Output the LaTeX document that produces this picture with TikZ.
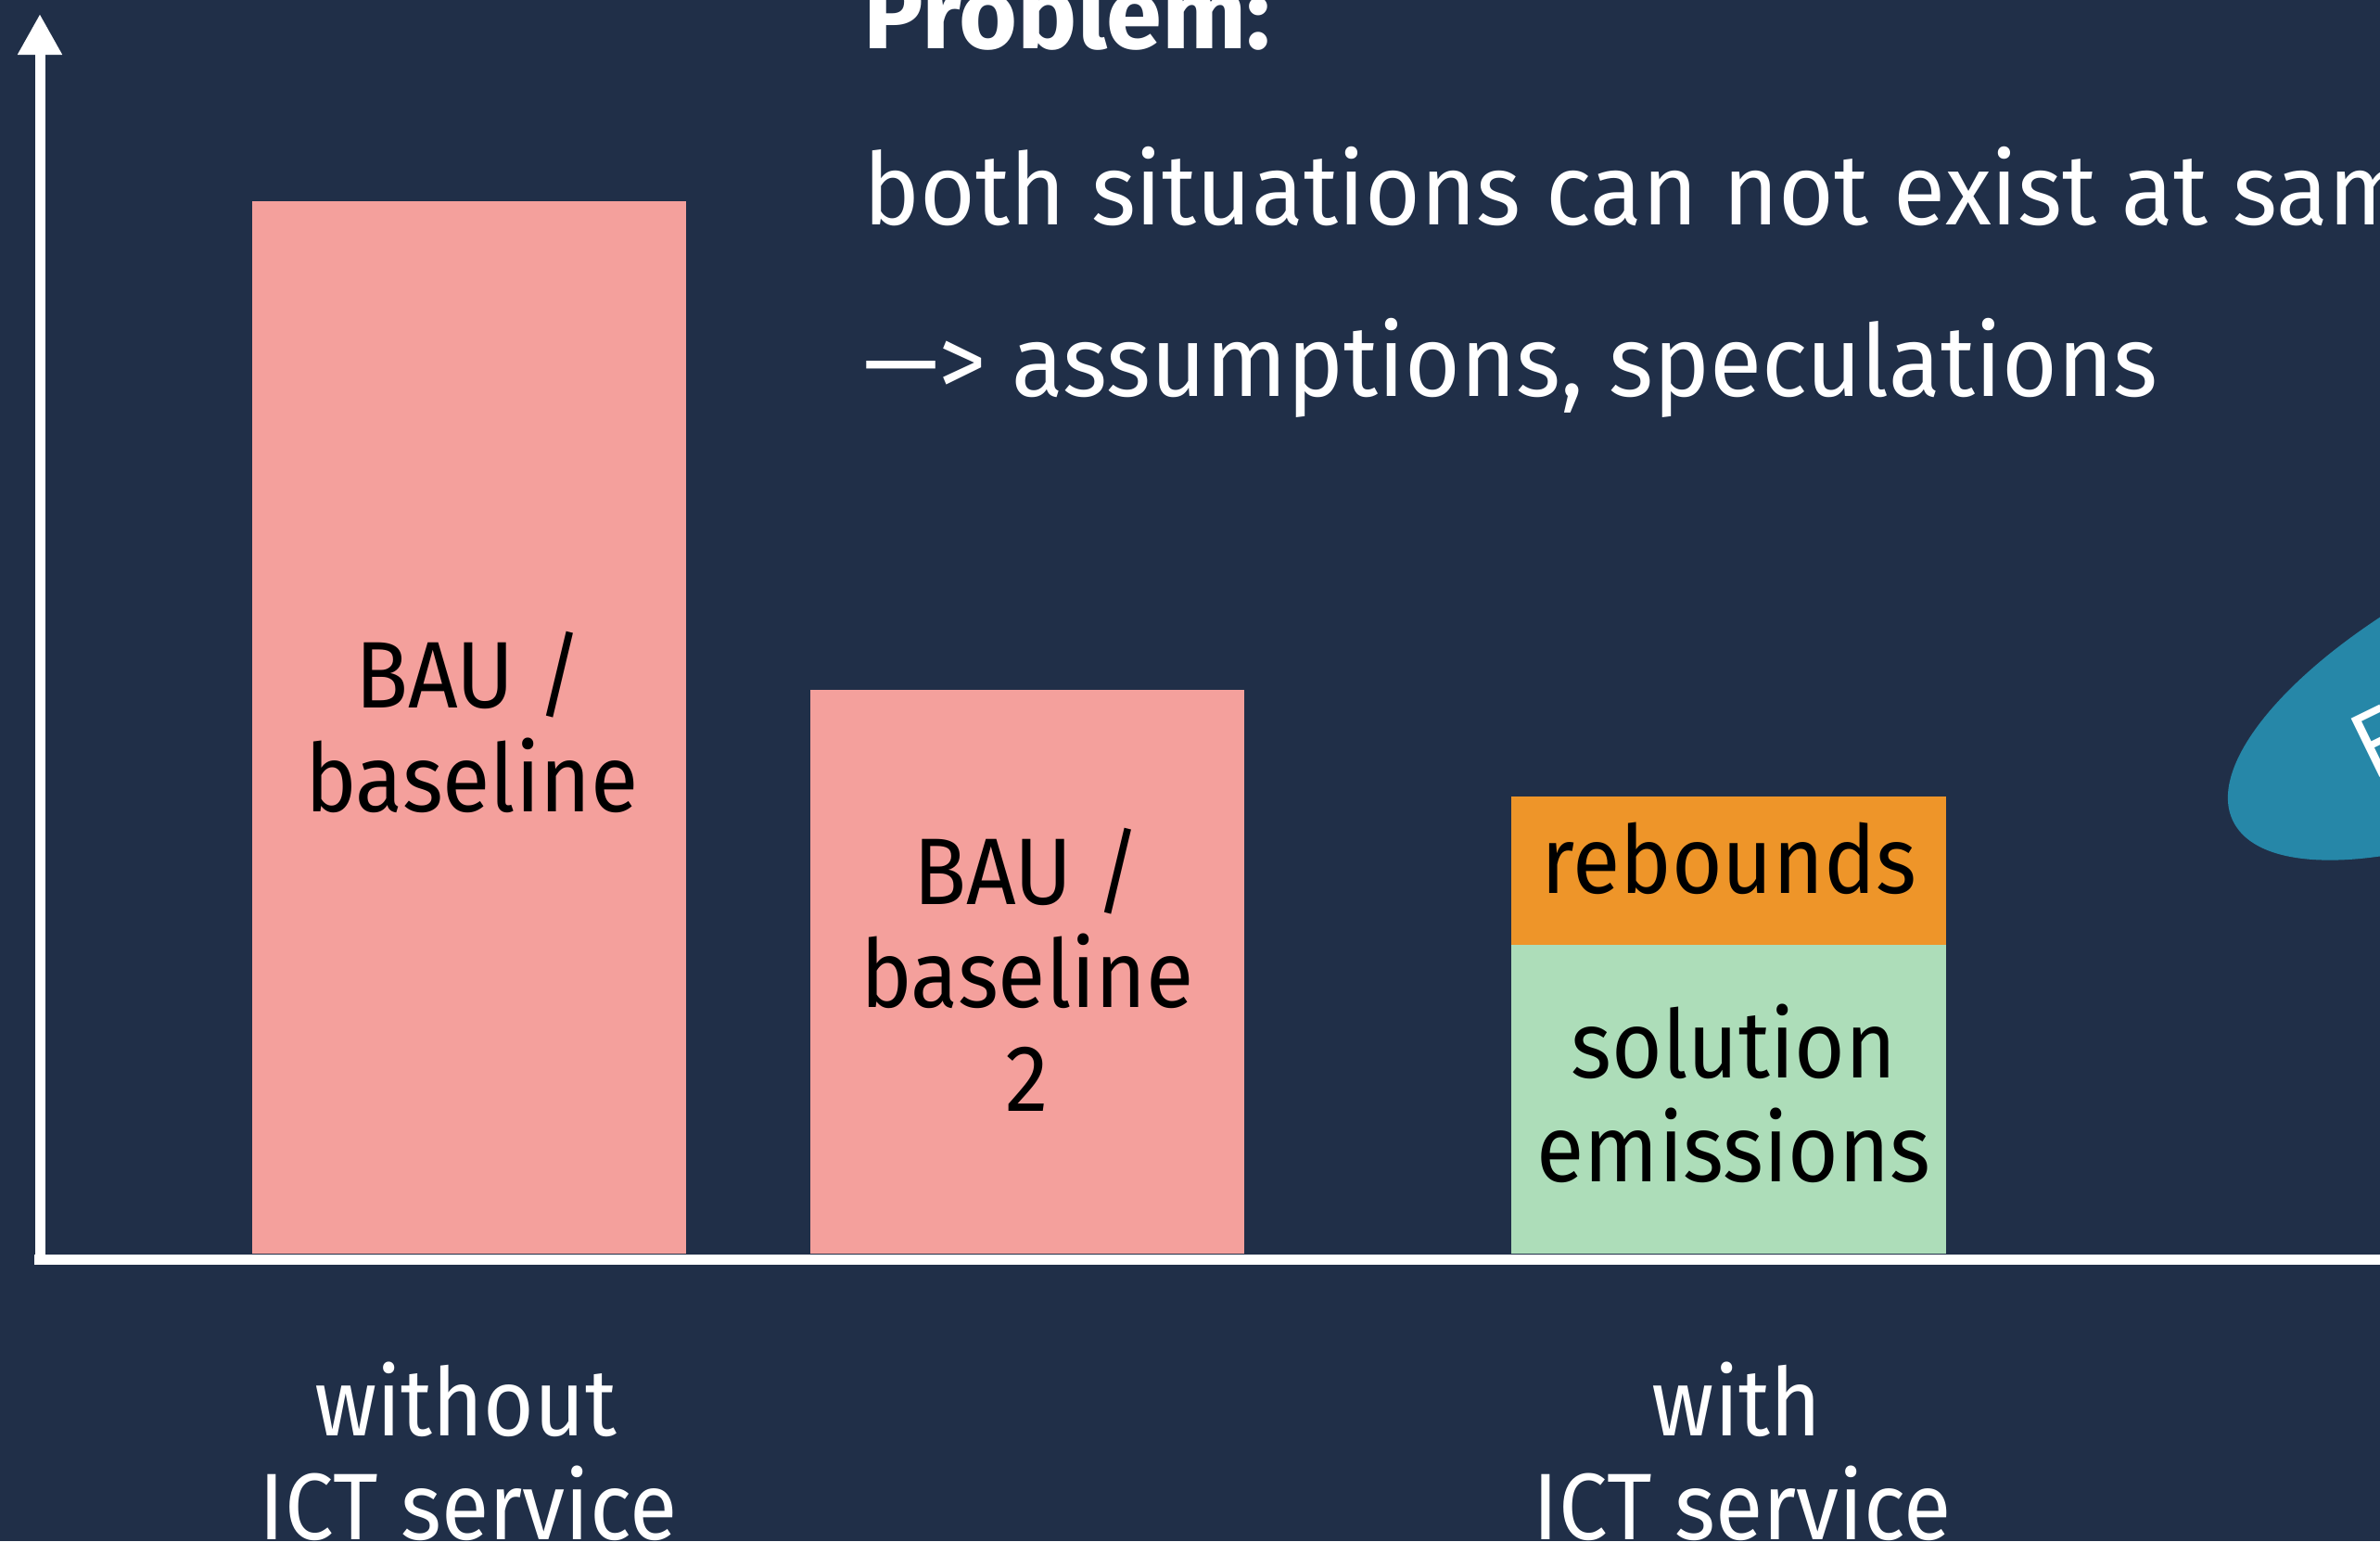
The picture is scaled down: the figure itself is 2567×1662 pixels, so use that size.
\documentclass[tikz,border=0pt]{standalone}
\usepackage{fontspec}
\setmainfont{Fira Sans}
\newfontfamily\lblfamily[FakeStretch=0.92]{Fira Sans}
\newfontfamily\topfamily[FakeStretch=0.95]{Fira Sans}
\usetikzlibrary{arrows.meta,shapes.geometric}
\definecolor{bgnavy}{HTML}{202F48}
\definecolor{barpink}{HTML}{F4A09C}
\definecolor{barorange}{HTML}{EE9529}
\definecolor{bargreen}{HTML}{ADDDB9}
\definecolor{blobblue}{HTML}{2687A8}
\newcommand\lblsize{\lblfamily\fontsize{25.5pt}{28pt}\selectfont}
\newcommand\topsize{\topfamily\fontsize{27pt}{30pt}\selectfont}
\tikzset{
  barbox/.style={draw=none, inner sep=0pt, outer sep=0pt},
  lbl/.style={font=\lblsize, text=black, anchor=base, inner sep=0pt},
  wlbl/.style={font=\lblsize, text=white, anchor=base, inner sep=0pt},
  toptext/.style={font=\topsize, text=white, anchor=base west, inner sep=0pt},
  axisline/.style={draw=white, line width=2.75pt},
}
\begin{document}
\begin{tikzpicture}[x=0.25pt, y=-0.25pt]
  \path[use as bounding box, fill=bgnavy] (0,0) rectangle (2567,1662);
  \clip (0,0) rectangle (2567,1662);

  % blob at right edge
  \node[ellipse, fill=blobblue, draw=none, minimum width=175pt, minimum height=67.5pt,
        inner sep=0pt, rotate=26] (blob) at (2723,732) {};
  \node[font=\lblsize, text=white, rotate=26, anchor=north west, inner sep=0pt] (blobtext) at (2527,779) {F};

  % top text
  \node[toptext, font=\fontsize{27pt}{30pt}\selectfont\bfseries] (problem) at (931,52) {Problem:};
  \node[toptext] (both) at (931,242) {both situations can not exist at same time};
  \node[toptext] (assume) at (931,427) {—> assumptions, speculations};

  % bars
  \node[barbox, fill=barpink, minimum width=117pt, minimum height=283.75pt] (bar1) at (506,784.5) {};
  \node[barbox, fill=barpink, minimum width=117pt, minimum height=152pt] (bar2) at (1108,1048) {};
  \node[barbox, fill=barorange, minimum width=117.25pt, minimum height=40pt] (reb) at (1864.5,939) {};
  \node[barbox, fill=bargreen, minimum width=117.25pt, minimum height=83.25pt] (sol) at (1864.5,1185.5) {};

  % bar labels
  \node[lbl] (b1a) at (506,763) {BAU /};
  \node[lbl] (b1b) at (509,875) {baseline};
  \node[lbl] (b2a) at (1108,975) {BAU /};
  \node[lbl] (b2b) at (1108,1086) {baseline};
  \node[lbl] (b2c) at (1108,1198) {2};
  \node[lbl] (rebl) at (1865,963) {rebounds};
  \node[lbl] (sola) at (1870,1162) {solution};
  \node[lbl] (solb) at (1870,1274) {emissions};

  % axes
  \coordinate (yo) at (43,1364);
  \coordinate (ytop) at (43,15);
  \coordinate (xo) at (37,1358.5);
  \coordinate (xend) at (2567,1358.5);
  \draw[axisline] (xo) -- (xend);
  \draw[axisline, -{Triangle[length=11pt,width=11.25pt]}] (yo) -- (ytop);

  % category labels
  \node[wlbl] (wo1) at (502,1548) {without};
  \node[wlbl] (wo2) at (505,1660) {ICT service};
  \node[wlbl] (wi1) at (1873,1548) {with};
  \node[wlbl] (wi2) at (1879,1660) {ICT service};
\end{tikzpicture}
\end{document}
